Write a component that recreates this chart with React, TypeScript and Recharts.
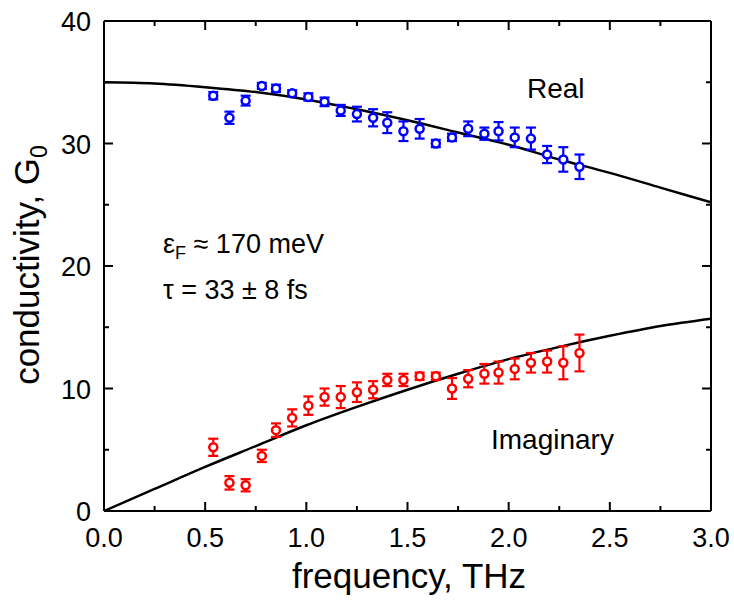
import { ComposedChart, Line, Scatter, ErrorBar, XAxis, YAxis, Customized } from 'recharts';

// measured frequencies (THz)
const freq = [0.54, 0.62, 0.70, 0.78, 0.85, 0.93, 1.01, 1.09, 1.17, 1.25, 1.33, 1.40,
  1.48, 1.56, 1.64, 1.72, 1.80, 1.88, 1.95, 2.03, 2.11, 2.19, 2.27, 2.35];

const realVals = [33.9, 32.1, 33.5, 34.7, 34.5, 34.1, 33.8, 33.4, 32.7, 32.4, 32.1, 31.7,
  31.0, 31.2, 30.0, 30.5, 31.2, 30.8, 31.0, 30.5, 30.4, 29.1, 28.7, 28.1];
const realErr = [0.3, 0.5, 0.4, 0.25, 0.3, 0.25, 0.3, 0.35, 0.45, 0.6, 0.7, 0.85,
  0.8, 0.8, 0.3, 0.3, 0.6, 0.5, 0.75, 0.8, 0.9, 0.7, 1.0, 1.0];

const imagVals = [5.2, 2.3, 2.1, 4.5, 6.6, 7.6, 8.6, 9.3, 9.3, 9.7, 9.9, 10.7,
  10.7, 11.0, 11.0, 10.0, 10.8, 11.2, 11.3, 11.6, 12.1, 12.2, 12.1, 12.9];
const imagErr = [0.7, 0.55, 0.5, 0.5, 0.55, 0.7, 0.75, 0.7, 0.9, 0.8, 0.7, 0.5,
  0.5, 0.3, 0.3, 0.85, 0.7, 0.8, 0.9, 0.85, 0.8, 0.9, 1.35, 1.5];

// fit curves read at 0.25 THz steps
const fitFreq = [0, 0.25, 0.5, 0.75, 1.0, 1.25, 1.5, 1.75, 2.0, 2.25, 2.5, 2.75, 3.0];
const fitReal = [35.0, 34.9, 34.6, 34.2, 33.6, 32.8, 31.9, 30.9, 29.9, 28.7, 27.6, 26.4, 25.2];
const fitImag = [0.0, 1.8, 3.6, 5.3, 7.0, 8.5, 9.9, 11.2, 12.4, 13.4, 14.3, 15.1, 15.7];

const xTicks = [0, 0.25, 0.5, 0.75, 1.0, 1.25, 1.5, 1.75, 2.0, 2.25, 2.5, 2.75, 3.0];
const yTicks = [0, 5, 10, 15, 20, 25, 30, 35, 40];

const realData = freq.map((x, i) => ({ x, y: realVals[i], err: realErr[i] }));
const imagData = freq.map((x, i) => ({ x, y: imagVals[i], err: imagErr[i] }));
const realFit = fitFreq.map((x, i) => ({ x, y: fitReal[i] }));
const imagFit = fitFreq.map((x, i) => ({ x, y: fitImag[i] }));

const FONT = '"Liberation Sans", Arial, sans-serif';

const isMajorX = (v: number) => Math.abs(v * 2 - Math.round(v * 2)) < 1e-6;
const isMajorY = (v: number) => v % 10 === 0;

const BottomTick = ({ x, y, payload }: any) => {
  const major = isMajorX(payload.value);
  return (
    <g>
      <line x1={x} x2={x} y1={y} y2={y - (major ? 9 : 5)} stroke="#000" strokeWidth={2} />
      {major && (
        <text x={x} y={y + 36} textAnchor="middle" fontSize={27} fontFamily={FONT} fill="#000">
          {payload.value.toFixed(1)}
        </text>
      )}
    </g>
  );
};

const TopTick = ({ x, y, payload }: any) => {
  const major = isMajorX(payload.value);
  return <line x1={x} x2={x} y1={y} y2={y + (major ? 9 : 5)} stroke="#000" strokeWidth={2} />;
};

const LeftTick = ({ x, y, payload }: any) => {
  const major = isMajorY(payload.value);
  return (
    <g>
      <line x1={x} x2={x + (major ? 9 : 5)} y1={y} y2={y} stroke="#000" strokeWidth={2} />
      {major && (
        <text x={x - 13} y={y + 10} textAnchor="end" fontSize={27} fontFamily={FONT} fill="#000">
          {payload.value}
        </text>
      )}
    </g>
  );
};

const RightTick = ({ x, y, payload }: any) => {
  const major = isMajorY(payload.value);
  return <line x1={x} x2={x - (major ? 9 : 5)} y1={y} y2={y} stroke="#000" strokeWidth={2} />;
};

const dot = (color: string) => (props: any) => (
  <circle cx={props.cx} cy={props.cy} r={4} fill="#fff" stroke={color} strokeWidth={2.5} />
);

const Annotations = () => (
  <g fontFamily={FONT} fill="#000">
    <text x={527} y={98} fontSize={28}>Real</text>
    <text x={491} y={449} fontSize={28}>Imaginary</text>
    <text x={163} y={253} fontSize={27}>
      ε<tspan fontSize={18} dy={6}>F</tspan><tspan dy={-6}> ≈ 170 meV</tspan>
    </text>
    <text x={163} y={299} fontSize={27}>τ = 33 ± 8 fs</text>
    <text x={409} y={588} fontSize={35} textAnchor="middle">frequency, THz</text>
    <text x={39} y={265} fontSize={35} textAnchor="middle" transform="rotate(-90, 39, 265)">
      conductivity, G<tspan fontSize={23} dy={8}>0</tspan>
    </text>
  </g>
);

export default function App() {
  return (
    <div style={{ position: 'absolute', left: 0, top: 0, background: '#fff' }}>
      <ComposedChart width={734} height={608} margin={{ top: 20, right: 22, bottom: 96, left: 103 }}>
        <XAxis xAxisId="b" dataKey="x" type="number" domain={[0, 3]} ticks={xTicks} interval={0}
          height={1} tickSize={0} tickMargin={0} tick={BottomTick} tickLine={false}
          axisLine={{ stroke: '#000', strokeWidth: 2 }} allowDataOverflow />
        <XAxis xAxisId="t" orientation="top" dataKey="x" type="number" domain={[0, 3]} ticks={xTicks} interval={0}
          height={1} tickSize={0} tickMargin={0} tick={TopTick} tickLine={false}
          axisLine={{ stroke: '#000', strokeWidth: 2 }} allowDataOverflow />
        <YAxis yAxisId="l" dataKey="y" type="number" domain={[0, 40]} ticks={yTicks} interval={0}
          width={1} tickSize={0} tickMargin={0} tick={LeftTick} tickLine={false}
          axisLine={{ stroke: '#000', strokeWidth: 2 }} allowDataOverflow />
        <YAxis yAxisId="r" orientation="right" dataKey="y" type="number" domain={[0, 40]} ticks={yTicks} interval={0}
          width={1} tickSize={0} tickMargin={0} tick={RightTick} tickLine={false}
          axisLine={{ stroke: '#000', strokeWidth: 2 }} allowDataOverflow />

        <Line xAxisId="b" yAxisId="l" data={realFit} dataKey="y" type="monotone" stroke="#000"
          strokeWidth={2.5} dot={false} isAnimationActive={false} />
        <Line xAxisId="b" yAxisId="l" data={imagFit} dataKey="y" type="monotone" stroke="#000"
          strokeWidth={2.5} dot={false} isAnimationActive={false} />
        {/* dummy series so the mirrored frame axes get scales */}
        <Line xAxisId="t" yAxisId="r" data={realFit} dataKey="y" stroke="none" dot={false}
          isAnimationActive={false} />

        <Scatter xAxisId="b" yAxisId="l" data={realData} dataKey="y" shape={dot('#0000ff')} isAnimationActive={false}>
          <ErrorBar dataKey="err" direction="y" width={5} stroke="#0000ff" strokeWidth={2.2} />
        </Scatter>
        <Scatter xAxisId="b" yAxisId="l" data={imagData} dataKey="y" shape={dot('#ff0000')} isAnimationActive={false}>
          <ErrorBar dataKey="err" direction="y" width={5} stroke="#ff0000" strokeWidth={2.2} />
        </Scatter>

        <Customized component={Annotations} />
      </ComposedChart>
    </div>
  );
}
